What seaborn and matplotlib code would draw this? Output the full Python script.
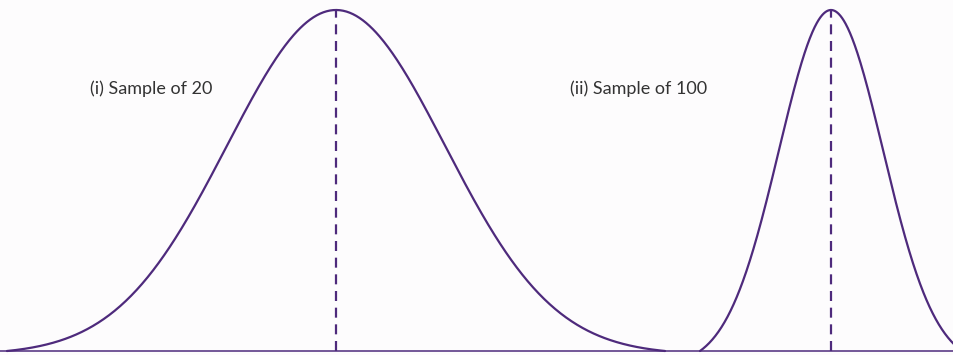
import numpy as np
import pandas as pd
import matplotlib
matplotlib.use("Agg")
import matplotlib.pyplot as plt
import seaborn as sns

# Sampling distributions of the mean for two sample sizes
labels = ["(i) Sample of 20", "(ii) Sample of 100"]
centres = [336, 831]          # position of the mean on the horizontal scale
spreads = [109, 52]           # standard error (wider for the smaller sample)
half_ranges = [329, 131]      # how far each curve is drawn either side of the mean
label_x = [90, 570]
label_y = 0.77

purple = "#4e2a7c"
text_colour = "#333333"

rows = []
for lab, mu, sd, hr in zip(labels, centres, spreads, half_ranges):
    x = np.linspace(mu - hr, mu + hr, 600)
    g = np.exp(-((x - mu) ** 2) / (2 * sd ** 2))
    floor = np.exp(-(hr ** 2) / (2 * sd ** 2))
    rows.append(pd.DataFrame({"x": x, "density": (g - floor) / (1 - floor), "sample": lab}))
df = pd.concat(rows, ignore_index=True)

sns.set_theme(style="white")
plt.rcParams["font.family"] = ["Lato", "DejaVu Sans"]

fig = plt.figure(figsize=(9.54, 3.55), dpi=100)
fig.patch.set_facecolor("#fdfcfd")
ax = fig.add_axes([0, 0, 1, 1])
ax.set_facecolor("#fdfcfd")

sns.lineplot(data=df, x="x", y="density", units="sample", estimator=None,
             color=purple, linewidth=1.6, ax=ax, legend=False)

# baseline
ax.axhline(0, color=purple, linewidth=1.1, zorder=1)

# dashed line at each mean
for mu in centres:
    ax.plot([mu, mu], [0, 1], color=purple, linewidth=1.6,
            dashes=(4.5, 3), solid_capstyle="butt")

for lab, lx in zip(labels, label_x):
    ax.text(lx, label_y, lab, fontsize=13, color=text_colour,
            ha="left", va="center")

ax.set_xlim(0, 954)
ax.set_ylim(-4 / 341, 1 + 10 / 341)
ax.set_axis_off()

fig.savefig("out.png", dpi=100, facecolor=fig.get_facecolor())
